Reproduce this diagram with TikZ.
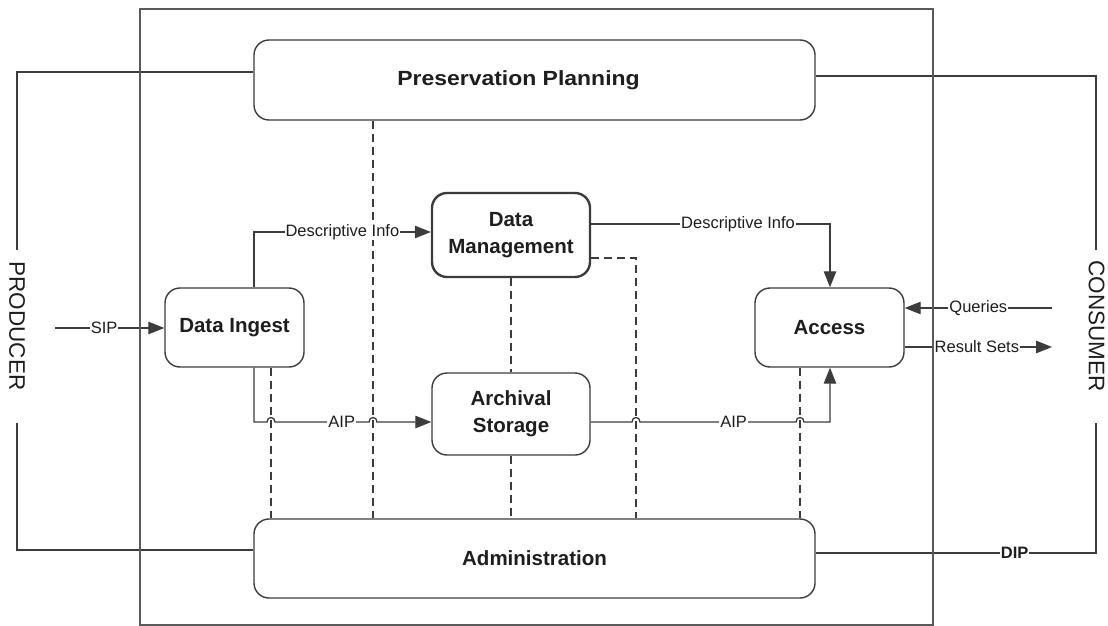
\documentclass[tikz,border=0pt]{standalone}
\usepackage{fontspec}
\setmainfont{Liberation Sans}
\usetikzlibrary{arrows.meta,calc}
\definecolor{linec}{HTML}{3C3C3C}
\definecolor{textc}{HTML}{1E1E1E}
\definecolor{framec}{HTML}{5A5A5A}
\begin{document}
\begin{tikzpicture}[x=1pt,y=-1pt,
  box/.style={draw=linec, line width=1.4pt, rounded corners=15pt, inner sep=0pt,
    align=center, text=textc, font=\fontsize{20.5}{27}\selectfont\bfseries},
  lbl/.style={fill=white, inner xsep=1pt, inner ysep=0.5pt, text=textc,
    font=\fontsize{16.5}{18}\selectfont},
  side/.style={rotate=-90, inner sep=0pt, text=textc, font=\fontsize{22.5}{24}\selectfont},
  conn/.style={draw=linec, line width=1.3pt},
  arr/.style={conn, -{Triangle[length=16pt,width=12.5pt]}},
  dsh/.style={conn, dash pattern=on 8pt off 5pt}]
\useasboundingbox (0,0) rectangle (1108,626);
\fill[white] (0,0) rectangle (1108,626);

% boxes
\node[box, minimum width=561pt, minimum height=80pt] (pp) at (534.5,80) {\hspace*{-32pt}\scalebox{1.12}[1]{Preservation Planning}};
\node[box, minimum width=561pt, minimum height=79pt] (adm) at (534.5,558.5) {Administration};
\node[box, minimum width=139pt, minimum height=79pt] (di) at (234.5,327.5) {Data Ingest};
\node[box, line width=2.4pt, minimum width=158pt, minimum height=84pt] (dm) at (511,235) {Data\\Management};
\node[box, minimum width=158pt, minimum height=82pt] (as) at (511,414) {Archival\\Storage};
\node[box, minimum width=149pt, minimum height=79pt] (acc) at (829.5,327.5) {Access};

% side labels
\node[side] (prod) at (17,326) {PRODUCER};
\node[side] (cons) at (1096.5,326) {CONSUMER};

% coordinates
\coordinate (p1) at (17,72);
\coordinate (p2) at (17,250);
\coordinate (p3) at (17,423);
\coordinate (p4) at (17,550);
\coordinate (c1) at (1096,76);
\coordinate (c2) at (1096,250);
\coordinate (c3) at (1096,423);
\coordinate (c4) at (1096,553);
\coordinate (sip) at (55,328);
\coordinate (d1) at (254,232);
\coordinate (d2) at (830,224);
\coordinate (a1) at (254,422);
\coordinate (a2) at (830,422);
\coordinate (q) at (1052,308);
\coordinate (r) at (1052,347);
\coordinate (v1) at (271,0);
\coordinate (v2) at (373,0);
\coordinate (m) at (636,258);
\coordinate (v4) at (800,0);

% producer / consumer frame lines
\draw[conn] (pp.west |- p1) -- (p1) -- (p2);
\draw[conn] (p3) -- (p4) -- (adm.west |- p4);
\draw[conn] (pp.east |- c1) -- (c1) -- (c2);
\draw[conn] (adm.east |- c4) -- node[lbl, pos=0.71, font=\fontsize{16.5}{18}\selectfont\bfseries]{DIP} (c4) -- (c3);

% dashed management links
\draw[dsh] (di.south -| v1) -- (adm.north -| v1);
\draw[dsh] (pp.south -| v2) -- (adm.north -| v2);
\draw[dsh] (dm.south) -- (as.north);
\draw[dsh] (as.south) -- (adm.north -| as.south);
\draw[dsh] (dm.east |- m) -- (m) -- (adm.north -| m);
\draw[dsh] (acc.south -| v4) -- (adm.north -| v4);

% flows
\draw[arr] (sip) -- node[lbl, pos=0.45]{SIP} (di.west |- sip);
\draw[arr] (di.north -| d1) -- (d1) -- node[lbl, pos=0.5]{Descriptive Info} (dm.west |- d1);
\draw[arr] (dm.east |- d2) -- node[lbl, pos=0.615]{Descriptive Info} (d2) -- (acc.north -| d2);
\draw[arr] (di.south -| a1) -- (a1) -- (267,422) .. controls (267,416) and (275,416) .. (275,422)
  -- node[lbl, pos=0.71]{AIP} (369,422) .. controls (369,416) and (377,416) .. (377,422)
  -- (as.west |- a1);
\draw[arr] (as.east |- a2) -- (632,422) .. controls (632,416) and (640,416) .. (640,422)
  -- node[lbl, pos=0.6]{AIP} (796,422) .. controls (796,416) and (804,416) .. (804,422)
  -- (a2) -- (acc.south -| a2);
\draw[arr] (q) -- node[lbl, pos=0.5]{Queries} (acc.east |- q);
\draw[arr] (acc.east |- r) -- node[lbl, pos=0.49]{Result Sets} (r);

% outer frame
\draw[draw=framec, line width=1.4pt] (140,9) rectangle (933,625);
\end{tikzpicture}
\end{document}
